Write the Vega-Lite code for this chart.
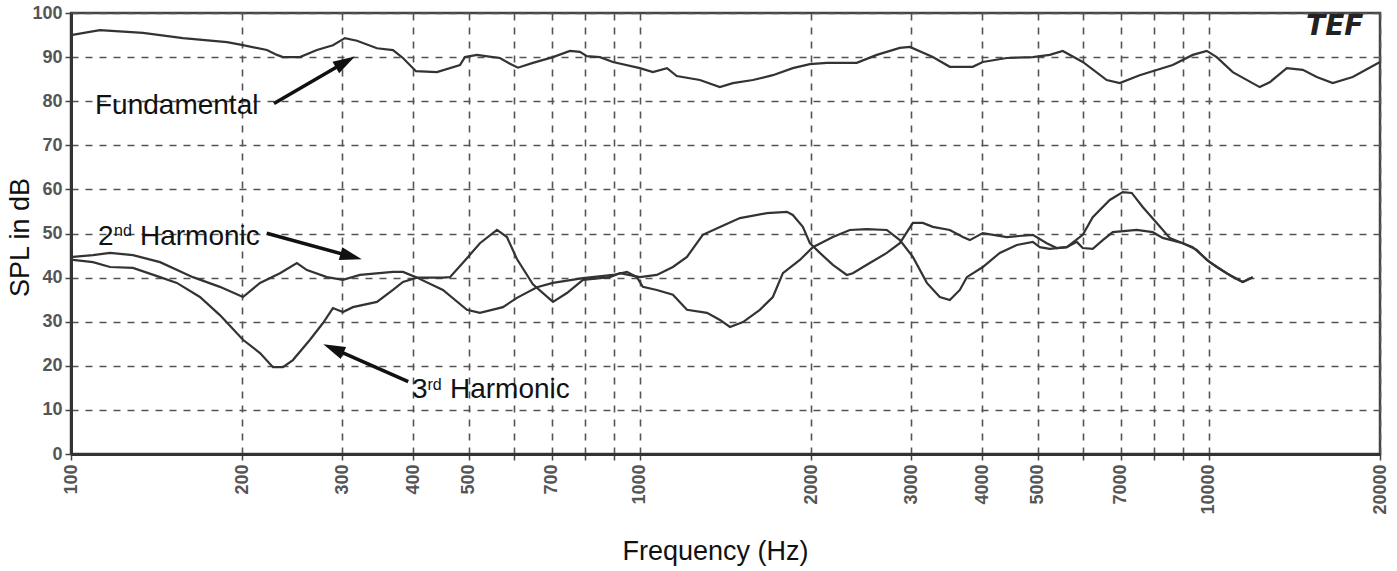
{
  "$schema": "https://vega.github.io/schema/vega-lite/v6.json",
  "width": 1309,
  "height": 441,
  "autosize": {"type": "none"},
  "padding": {"left": 71, "top": 13, "right": 17, "bottom": 117},
  "background": "white",
  "datasets": {
    "curves": [
      {"series": "Fundamental", "freq": 100, "db": 95.0},
      {"series": "Fundamental", "freq": 112.4, "db": 96.1},
      {"series": "Fundamental", "freq": 133.8, "db": 95.5},
      {"series": "Fundamental", "freq": 157.3, "db": 94.3},
      {"series": "Fundamental", "freq": 188, "db": 93.4},
      {"series": "Fundamental", "freq": 200.6, "db": 92.7},
      {"series": "Fundamental", "freq": 221, "db": 91.6},
      {"series": "Fundamental", "freq": 230.2, "db": 90.5},
      {"series": "Fundamental", "freq": 235.8, "db": 90.0},
      {"series": "Fundamental", "freq": 252.6, "db": 90.0},
      {"series": "Fundamental", "freq": 270.6, "db": 91.6},
      {"series": "Fundamental", "freq": 288.7, "db": 92.7},
      {"series": "Fundamental", "freq": 303, "db": 94.3},
      {"series": "Fundamental", "freq": 318.2, "db": 93.7},
      {"series": "Fundamental", "freq": 345, "db": 92.0},
      {"series": "Fundamental", "freq": 368.1, "db": 91.6},
      {"series": "Fundamental", "freq": 383.3, "db": 89.8},
      {"series": "Fundamental", "freq": 404, "db": 86.8},
      {"series": "Fundamental", "freq": 439.8, "db": 86.6},
      {"series": "Fundamental", "freq": 482.8, "db": 88.2},
      {"series": "Fundamental", "freq": 492.6, "db": 90.0},
      {"series": "Fundamental", "freq": 517.2, "db": 90.5},
      {"series": "Fundamental", "freq": 551.6, "db": 90.0},
      {"series": "Fundamental", "freq": 567.5, "db": 89.8},
      {"series": "Fundamental", "freq": 591, "db": 88.5},
      {"series": "Fundamental", "freq": 610.5, "db": 87.6},
      {"series": "Fundamental", "freq": 648.6, "db": 88.7},
      {"series": "Fundamental", "freq": 703.4, "db": 90.0},
      {"series": "Fundamental", "freq": 753.4, "db": 91.4},
      {"series": "Fundamental", "freq": 784.5, "db": 91.2},
      {"series": "Fundamental", "freq": 807, "db": 90.2},
      {"series": "Fundamental", "freq": 850.7, "db": 90.0},
      {"series": "Fundamental", "freq": 896.6, "db": 88.9},
      {"series": "Fundamental", "freq": 1000, "db": 87.5},
      {"series": "Fundamental", "freq": 1054, "db": 86.6},
      {"series": "Fundamental", "freq": 1116, "db": 87.5},
      {"series": "Fundamental", "freq": 1161, "db": 85.7},
      {"series": "Fundamental", "freq": 1275, "db": 84.8},
      {"series": "Fundamental", "freq": 1382, "db": 83.2},
      {"series": "Fundamental", "freq": 1457, "db": 84.1},
      {"series": "Fundamental", "freq": 1580, "db": 84.8},
      {"series": "Fundamental", "freq": 1713, "db": 85.9},
      {"series": "Fundamental", "freq": 1857, "db": 87.5},
      {"series": "Fundamental", "freq": 1990, "db": 88.4},
      {"series": "Fundamental", "freq": 2131, "db": 88.7},
      {"series": "Fundamental", "freq": 2406, "db": 88.7},
      {"series": "Fundamental", "freq": 2609, "db": 90.5},
      {"series": "Fundamental", "freq": 2864, "db": 92.1},
      {"series": "Fundamental", "freq": 2983, "db": 92.3},
      {"series": "Fundamental", "freq": 3273, "db": 90.0},
      {"series": "Fundamental", "freq": 3506, "db": 87.8},
      {"series": "Fundamental", "freq": 3847, "db": 87.8},
      {"series": "Fundamental", "freq": 4006, "db": 88.9},
      {"series": "Fundamental", "freq": 4416, "db": 89.8},
      {"series": "Fundamental", "freq": 4906, "db": 90.0},
      {"series": "Fundamental", "freq": 5254, "db": 90.5},
      {"series": "Fundamental", "freq": 5538, "db": 91.4},
      {"series": "Fundamental", "freq": 6005, "db": 88.9},
      {"series": "Fundamental", "freq": 6617, "db": 84.8},
      {"series": "Fundamental", "freq": 6975, "db": 84.1},
      {"series": "Fundamental", "freq": 7560, "db": 85.9},
      {"series": "Fundamental", "freq": 8643, "db": 88.2},
      {"series": "Fundamental", "freq": 9373, "db": 90.5},
      {"series": "Fundamental", "freq": 9920, "db": 91.4},
      {"series": "Fundamental", "freq": 10328, "db": 90.0},
      {"series": "Fundamental", "freq": 11020, "db": 86.6},
      {"series": "Fundamental", "freq": 12291, "db": 83.2},
      {"series": "Fundamental", "freq": 12800, "db": 84.3},
      {"series": "Fundamental", "freq": 13714, "db": 87.5},
      {"series": "Fundamental", "freq": 14633, "db": 87.1},
      {"series": "Fundamental", "freq": 15485, "db": 85.5},
      {"series": "Fundamental", "freq": 16517, "db": 84.1},
      {"series": "Fundamental", "freq": 17907, "db": 85.5},
      {"series": "Fundamental", "freq": 20000, "db": 88.9},

      {"series": "2nd Harmonic", "freq": 100.8, "db": 44.7},
      {"series": "2nd Harmonic", "freq": 109.3, "db": 45.1},
      {"series": "2nd Harmonic", "freq": 117.1, "db": 45.6},
      {"series": "2nd Harmonic", "freq": 128.5, "db": 45.1},
      {"series": "2nd Harmonic", "freq": 143.4, "db": 43.5},
      {"series": "2nd Harmonic", "freq": 163.8, "db": 40.1},
      {"series": "2nd Harmonic", "freq": 182.7, "db": 37.9},
      {"series": "2nd Harmonic", "freq": 200.6, "db": 35.6},
      {"series": "2nd Harmonic", "freq": 214.9, "db": 38.8},
      {"series": "2nd Harmonic", "freq": 233.0, "db": 41.0},
      {"series": "2nd Harmonic", "freq": 249.5, "db": 43.3},
      {"series": "2nd Harmonic", "freq": 259.9, "db": 41.7},
      {"series": "2nd Harmonic", "freq": 281.8, "db": 40.1},
      {"series": "2nd Harmonic", "freq": 300.6, "db": 39.5},
      {"series": "2nd Harmonic", "freq": 322.1, "db": 40.6},
      {"series": "2nd Harmonic", "freq": 368.1, "db": 41.3},
      {"series": "2nd Harmonic", "freq": 383.3, "db": 41.3},
      {"series": "2nd Harmonic", "freq": 405.6, "db": 40.0},
      {"series": "2nd Harmonic", "freq": 450.6, "db": 40.0},
      {"series": "2nd Harmonic", "freq": 463.6, "db": 40.1},
      {"series": "2nd Harmonic", "freq": 496.6, "db": 44.4},
      {"series": "2nd Harmonic", "freq": 523.4, "db": 47.8},
      {"series": "2nd Harmonic", "freq": 560.8, "db": 50.8},
      {"series": "2nd Harmonic", "freq": 583.9, "db": 49.2},
      {"series": "2nd Harmonic", "freq": 608.0, "db": 44.2},
      {"series": "2nd Harmonic", "freq": 648.6, "db": 38.5},
      {"series": "2nd Harmonic", "freq": 703.4, "db": 34.5},
      {"series": "2nd Harmonic", "freq": 744.3, "db": 36.5},
      {"series": "2nd Harmonic", "freq": 794.4, "db": 39.5},
      {"series": "2nd Harmonic", "freq": 885.7, "db": 40.1},
      {"series": "2nd Harmonic", "freq": 922.3, "db": 41.0},
      {"series": "2nd Harmonic", "freq": 1000, "db": 40.1},
      {"series": "2nd Harmonic", "freq": 1071, "db": 40.6},
      {"series": "2nd Harmonic", "freq": 1143, "db": 42.4},
      {"series": "2nd Harmonic", "freq": 1210, "db": 44.7},
      {"series": "2nd Harmonic", "freq": 1290, "db": 49.7},
      {"series": "2nd Harmonic", "freq": 1383, "db": 51.5},
      {"series": "2nd Harmonic", "freq": 1499, "db": 53.5},
      {"series": "2nd Harmonic", "freq": 1672, "db": 54.6},
      {"series": "2nd Harmonic", "freq": 1813, "db": 54.9},
      {"series": "2nd Harmonic", "freq": 1857, "db": 54.2},
      {"series": "2nd Harmonic", "freq": 1934, "db": 51.5},
      {"series": "2nd Harmonic", "freq": 1990, "db": 47.8},
      {"series": "2nd Harmonic", "freq": 2072, "db": 45.6},
      {"series": "2nd Harmonic", "freq": 2184, "db": 42.9},
      {"series": "2nd Harmonic", "freq": 2311, "db": 40.6},
      {"series": "2nd Harmonic", "freq": 2368, "db": 41.0},
      {"series": "2nd Harmonic", "freq": 2506, "db": 42.9},
      {"series": "2nd Harmonic", "freq": 2717, "db": 45.6},
      {"series": "2nd Harmonic", "freq": 2864, "db": 47.8},
      {"series": "2nd Harmonic", "freq": 3019, "db": 52.4},
      {"series": "2nd Harmonic", "freq": 3143, "db": 52.4},
      {"series": "2nd Harmonic", "freq": 3273, "db": 51.5},
      {"series": "2nd Harmonic", "freq": 3506, "db": 50.8},
      {"series": "2nd Harmonic", "freq": 3696, "db": 49.2},
      {"series": "2nd Harmonic", "freq": 3802, "db": 48.5},
      {"series": "2nd Harmonic", "freq": 4007, "db": 50.1},
      {"series": "2nd Harmonic", "freq": 4416, "db": 49.2},
      {"series": "2nd Harmonic", "freq": 4906, "db": 49.7},
      {"series": "2nd Harmonic", "freq": 5191, "db": 47.8},
      {"series": "2nd Harmonic", "freq": 5406, "db": 46.7},
      {"series": "2nd Harmonic", "freq": 5629, "db": 46.9},
      {"series": "2nd Harmonic", "freq": 5862, "db": 48.1},
      {"series": "2nd Harmonic", "freq": 6005, "db": 46.7},
      {"series": "2nd Harmonic", "freq": 6253, "db": 46.5},
      {"series": "2nd Harmonic", "freq": 6512, "db": 48.5},
      {"series": "2nd Harmonic", "freq": 6781, "db": 50.3},
      {"series": "2nd Harmonic", "freq": 7471, "db": 50.8},
      {"series": "2nd Harmonic", "freq": 7972, "db": 50.3},
      {"series": "2nd Harmonic", "freq": 8301, "db": 49.0},
      {"series": "2nd Harmonic", "freq": 9004, "db": 47.8},
      {"series": "2nd Harmonic", "freq": 9527, "db": 46.3},
      {"series": "2nd Harmonic", "freq": 9919, "db": 44.0},
      {"series": "2nd Harmonic", "freq": 10329, "db": 42.4},
      {"series": "2nd Harmonic", "freq": 11020, "db": 40.1},
      {"series": "2nd Harmonic", "freq": 11475, "db": 39.0},
      {"series": "2nd Harmonic", "freq": 11949, "db": 40.1},

      {"series": "3rd Harmonic", "freq": 100.8, "db": 44.0},
      {"series": "3rd Harmonic", "freq": 109.3, "db": 43.5},
      {"series": "3rd Harmonic", "freq": 117.1, "db": 42.4},
      {"series": "3rd Harmonic", "freq": 128.5, "db": 42.2},
      {"series": "3rd Harmonic", "freq": 143.4, "db": 40.1},
      {"series": "3rd Harmonic", "freq": 153.5, "db": 38.8},
      {"series": "3rd Harmonic", "freq": 168.5, "db": 35.6},
      {"series": "3rd Harmonic", "freq": 182.7, "db": 31.5},
      {"series": "3rd Harmonic", "freq": 200.6, "db": 25.9},
      {"series": "3rd Harmonic", "freq": 214.9, "db": 22.9},
      {"series": "3rd Harmonic", "freq": 226.5, "db": 19.7},
      {"series": "3rd Harmonic", "freq": 235.8, "db": 19.7},
      {"series": "3rd Harmonic", "freq": 245.5, "db": 21.3},
      {"series": "3rd Harmonic", "freq": 263.1, "db": 25.9},
      {"series": "3rd Harmonic", "freq": 277.3, "db": 29.7},
      {"series": "3rd Harmonic", "freq": 288.7, "db": 33.1},
      {"series": "3rd Harmonic", "freq": 300.6, "db": 32.2},
      {"series": "3rd Harmonic", "freq": 313.0, "db": 33.3},
      {"series": "3rd Harmonic", "freq": 345.0, "db": 34.5},
      {"series": "3rd Harmonic", "freq": 368.1, "db": 37.2},
      {"series": "3rd Harmonic", "freq": 383.3, "db": 39.0},
      {"series": "3rd Harmonic", "freq": 405.6, "db": 40.0},
      {"series": "3rd Harmonic", "freq": 450.6, "db": 37.2},
      {"series": "3rd Harmonic", "freq": 496.6, "db": 32.7},
      {"series": "3rd Harmonic", "freq": 523.4, "db": 32.0},
      {"series": "3rd Harmonic", "freq": 574.5, "db": 33.3},
      {"series": "3rd Harmonic", "freq": 608, "db": 35.4},
      {"series": "3rd Harmonic", "freq": 659.2, "db": 37.8},
      {"series": "3rd Harmonic", "freq": 703.4, "db": 38.8},
      {"series": "3rd Harmonic", "freq": 794.4, "db": 39.9},
      {"series": "3rd Harmonic", "freq": 896.6, "db": 40.6},
      {"series": "3rd Harmonic", "freq": 949, "db": 41.3},
      {"series": "3rd Harmonic", "freq": 988, "db": 40.1},
      {"series": "3rd Harmonic", "freq": 1012, "db": 37.9},
      {"series": "3rd Harmonic", "freq": 1071, "db": 37.2},
      {"series": "3rd Harmonic", "freq": 1143, "db": 36.1},
      {"series": "3rd Harmonic", "freq": 1210, "db": 32.7},
      {"series": "3rd Harmonic", "freq": 1312, "db": 32.0},
      {"series": "3rd Harmonic", "freq": 1383, "db": 30.4},
      {"series": "3rd Harmonic", "freq": 1440, "db": 28.8},
      {"series": "3rd Harmonic", "freq": 1518, "db": 29.9},
      {"series": "3rd Harmonic", "freq": 1625, "db": 32.7},
      {"series": "3rd Harmonic", "freq": 1713, "db": 35.6},
      {"series": "3rd Harmonic", "freq": 1784, "db": 41.0},
      {"series": "3rd Harmonic", "freq": 1911, "db": 44.0},
      {"series": "3rd Harmonic", "freq": 2014, "db": 46.9},
      {"series": "3rd Harmonic", "freq": 2184, "db": 49.2},
      {"series": "3rd Harmonic", "freq": 2339, "db": 50.8},
      {"series": "3rd Harmonic", "freq": 2506, "db": 51.0},
      {"series": "3rd Harmonic", "freq": 2717, "db": 50.8},
      {"series": "3rd Harmonic", "freq": 2864, "db": 48.5},
      {"series": "3rd Harmonic", "freq": 3019, "db": 44.7},
      {"series": "3rd Harmonic", "freq": 3195, "db": 38.8},
      {"series": "3rd Harmonic", "freq": 3367, "db": 35.6},
      {"series": "3rd Harmonic", "freq": 3506, "db": 34.9},
      {"series": "3rd Harmonic", "freq": 3651, "db": 37.2},
      {"series": "3rd Harmonic", "freq": 3756, "db": 40.1},
      {"series": "3rd Harmonic", "freq": 4007, "db": 42.4},
      {"series": "3rd Harmonic", "freq": 4292, "db": 45.6},
      {"series": "3rd Harmonic", "freq": 4598, "db": 47.4},
      {"series": "3rd Harmonic", "freq": 4906, "db": 48.1},
      {"series": "3rd Harmonic", "freq": 5047, "db": 46.9},
      {"series": "3rd Harmonic", "freq": 5254, "db": 46.5},
      {"series": "3rd Harmonic", "freq": 5629, "db": 46.9},
      {"series": "3rd Harmonic", "freq": 6005, "db": 49.7},
      {"series": "3rd Harmonic", "freq": 6253, "db": 53.7},
      {"series": "3rd Harmonic", "freq": 6699, "db": 57.6},
      {"series": "3rd Harmonic", "freq": 7060, "db": 59.4},
      {"series": "3rd Harmonic", "freq": 7322, "db": 59.2},
      {"series": "3rd Harmonic", "freq": 7655, "db": 56.0},
      {"series": "3rd Harmonic", "freq": 8102, "db": 52.4},
      {"series": "3rd Harmonic", "freq": 8540, "db": 49.0},
      {"series": "3rd Harmonic", "freq": 9004, "db": 47.8},
      {"series": "3rd Harmonic", "freq": 9373, "db": 46.9},
      {"series": "3rd Harmonic", "freq": 10041, "db": 43.5},
      {"series": "3rd Harmonic", "freq": 10753, "db": 41.0},
      {"series": "3rd Harmonic", "freq": 11475, "db": 39.0},
      {"series": "3rd Harmonic", "freq": 11949, "db": 40.1}
    ],
    "labels": [
      {"role": "main", "text": "Fundamental", "freq": 110.2, "db": 77.1},
      {"role": "main", "text": "2", "freq": 111.5, "db": 47.4},
      {"role": "sup", "text": "nd", "freq": 119.0, "db": 49.4},
      {"role": "main", "text": "Harmonic", "freq": 132.2, "db": 47.4},
      {"role": "main", "text": "3", "freq": 397.4, "db": 12.8},
      {"role": "sup", "text": "rd", "freq": 423.2, "db": 14.5},
      {"role": "main", "text": "Harmonic", "freq": 463.6, "db": 12.8},
      {"role": "logo", "text": "TEF", "freq": 16651, "db": 95.0}
    ],
    "arrows": [
      {"arrow": "Fundamental", "freq": 227.4, "db": 79.5, "freq2": 303.6, "db2": 88.9},
      {"arrow": "2nd Harmonic", "freq": 220.8, "db": 50.05, "freq2": 310.8, "db2": 44.8},
      {"arrow": "3rd Harmonic", "freq": 391.6, "db": 16.4, "freq2": 289.2, "db2": 23.9}
    ]
  },
  "encoding": {
    "x": {
      "field": "freq",
      "type": "quantitative",
      "scale": {"type": "log", "domain": [100, 20000], "nice": false},
      "axis": {
        "title": "Frequency (Hz)",
        "values": [100, 200, 300, 400, 500, 600, 700, 800, 900, 1000, 2000, 3000, 4000, 5000, 6000, 7000, 8000, 9000, 10000, 20000],
        "labelExpr": "indexof([100, 200, 300, 400, 500, 700, 1000, 2000, 3000, 4000, 5000, 7000, 10000, 20000], datum.value) >= 0 ? format(datum.value, 'd') : ''",
        "labelAngle": -90,
        "labelOverlap": false,
        "labelFlush": false,
        "labelPadding": 4,
        "titleX": 644,
        "titleY": 97,
        "titleBaseline": "middle",
        "titleAlign": "center"
      }
    },
    "y": {
      "field": "db",
      "type": "quantitative",
      "scale": {"domain": [0, 100], "nice": false},
      "axis": {
        "title": "SPL in dB",
        "values": [0, 10, 20, 30, 40, 50, 60, 70, 80, 90, 100],
        "labelOverlap": false,
        "labelFlush": false,
        "labelPadding": 3,
        "titleAngle": 270,
        "titleX": -51,
        "titleY": 224,
        "titleBaseline": "middle",
        "titleAlign": "center"
      }
    }
  },
  "layer": [
    {
      "data": {"name": "curves"},
      "mark": {"type": "line", "color": "#333333", "strokeWidth": 2.2, "interpolate": "linear"},
      "encoding": {"detail": {"field": "series", "type": "nominal"}}
    },
    {
      "data": {"name": "arrows"},
      "mark": {"type": "rule", "color": "#111111", "strokeWidth": 3.5},
      "encoding": {
        "x2": {"field": "freq2"},
        "y2": {"field": "db2"}
      }
    },
    {
      "data": {"name": "arrows"},
      "transform": [{"filter": "datum.arrow === 'Fundamental'"}],
      "mark": {"type": "point", "shape": "M0,-1L0.6,1L-0.6,1Z", "filled": true, "opacity": 1, "color": "#111111", "size": 484, "angle": 60},
      "encoding": {"x": {"field": "freq2", "type": "quantitative"}, "y": {"field": "db2", "type": "quantitative"}}
    },
    {
      "data": {"name": "arrows"},
      "transform": [{"filter": "datum.arrow === '2nd Harmonic'"}],
      "mark": {"type": "point", "shape": "M0,-1L0.6,1L-0.6,1Z", "filled": true, "opacity": 1, "color": "#111111", "size": 484, "angle": 105.3},
      "encoding": {"x": {"field": "freq2", "type": "quantitative"}, "y": {"field": "db2", "type": "quantitative"}}
    },
    {
      "data": {"name": "arrows"},
      "transform": [{"filter": "datum.arrow === '3rd Harmonic'"}],
      "mark": {"type": "point", "shape": "M0,-1L0.6,1L-0.6,1Z", "filled": true, "opacity": 1, "color": "#111111", "size": 484, "angle": 293.9},
      "encoding": {"x": {"field": "freq2", "type": "quantitative"}, "y": {"field": "db2", "type": "quantitative"}}
    },
    {
      "data": {"name": "labels"},
      "transform": [{"filter": "datum.role === 'main'"}],
      "mark": {"type": "text", "align": "left", "baseline": "alphabetic", "font": "Liberation Sans", "fontSize": 28, "color": "#111111"},
      "encoding": {"text": {"field": "text"}}
    },
    {
      "data": {"name": "labels"},
      "transform": [{"filter": "datum.role === 'sup'"}],
      "mark": {"type": "text", "align": "left", "baseline": "alphabetic", "font": "Liberation Sans", "fontSize": 16, "color": "#111111"},
      "encoding": {"text": {"field": "text"}}
    },
    {
      "data": {"name": "labels"},
      "transform": [{"filter": "datum.role === 'logo'"}],
      "mark": {"type": "text", "align": "center", "baseline": "alphabetic", "font": "DejaVu Sans", "fontSize": 28, "fontStyle": "italic", "fontWeight": "bold", "color": "#222222"},
      "encoding": {"text": {"field": "text"}}
    }
  ],
  "config": {
    "view": {"stroke": "#444444", "strokeWidth": 2.5},
    "axis": {
      "grid": true,
      "gridColor": "#555555",
      "gridDash": [7, 7],
      "gridWidth": 1.6,
      "gridOpacity": 1,
      "domainColor": "#333333",
      "domainWidth": 3,
      "tickColor": "#444444",
      "tickSize": 6,
      "tickWidth": 1.5,
      "labelFont": "Liberation Sans",
      "labelFontSize": 18,
      "labelFontWeight": "bold",
      "labelColor": "#555555",
      "titleFont": "Liberation Sans",
      "titleFontSize": 27,
      "titleFontWeight": "normal",
      "titleColor": "#111111"
    }
  }
}
